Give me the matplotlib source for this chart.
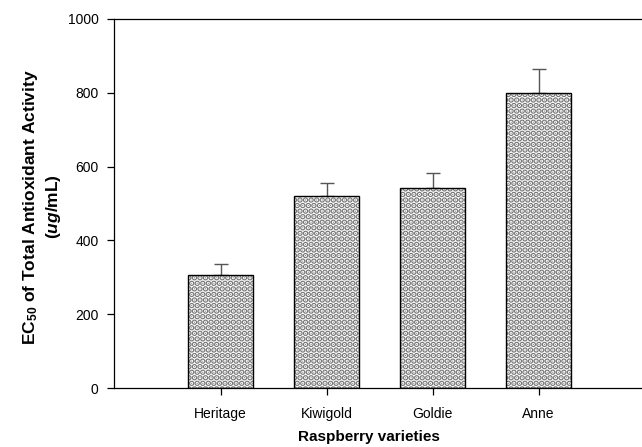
import matplotlib.pyplot as plt

plt.rcParams['font.family'] = ['Liberation Sans', 'DejaVu Sans']
plt.rcParams['mathtext.fontset'] = 'custom'
plt.rcParams['mathtext.rm'] = 'Liberation Sans:bold'
plt.rcParams['mathtext.it'] = 'Liberation Sans:bold:italic'
plt.rcParams['mathtext.bf'] = 'Liberation Sans:bold'
plt.rcParams['hatch.linewidth'] = 3.0

# data
varieties = ['Heritage', 'Kiwigold', 'Goldie', 'Anne']
ec50 = [307, 520, 541, 800]
sd = [28, 36, 42, 65]

fig = plt.figure(figsize=(6.42, 4.47), dpi=100)
ax = fig.add_axes([114 / 642, 59 / 447, 528 / 642, 369 / 447])

x = list(range(len(varieties)))

# dotted fill (gray), then black outline on top
ax.bar(x, ec50, width=0.61, color='white', edgecolor='#767676',
       hatch='...', linewidth=0, zorder=2)
ax.bar(x, ec50, width=0.61, color='none', edgecolor='black',
       linewidth=1.0, zorder=3)
ax.errorbar(x, ec50, yerr=[[0] * len(sd), sd], fmt='none',
            ecolor='#555555', elinewidth=1.0, capsize=5, capthick=1.0, zorder=1)

ax.set_xlim(-1.007, 3.975)
ax.set_ylim(0, 1000)
ax.set_yticks([0, 200, 400, 600, 800, 1000])
ax.set_xticks(x)
ax.set_xticklabels(varieties)

ax.spines['right'].set_visible(False)
for s in ['left', 'bottom', 'top']:
    ax.spines[s].set_linewidth(0.9)
ax.tick_params(axis='both', direction='out', length=5, width=0.9,
               labelsize=10, pad=6)
ax.tick_params(axis='x', pad=9)

ax.set_xlabel('Raspberry varieties', fontsize=11, fontweight='bold', va='center')
ax.xaxis.set_label_coords((369 - 114) / 528, -49 / 369)
ax.set_ylabel('EC$_{50}$ of Total Antioxidant Activity\n($\\mathit{ug}$/mL)',
              fontsize=12.5, fontweight='bold', linespacing=1.25, va='center')
ax.yaxis.set_label_coords(-(114 - 42) / 528, (388 - 207) / 369)

fig.savefig('out.png', dpi=100)
